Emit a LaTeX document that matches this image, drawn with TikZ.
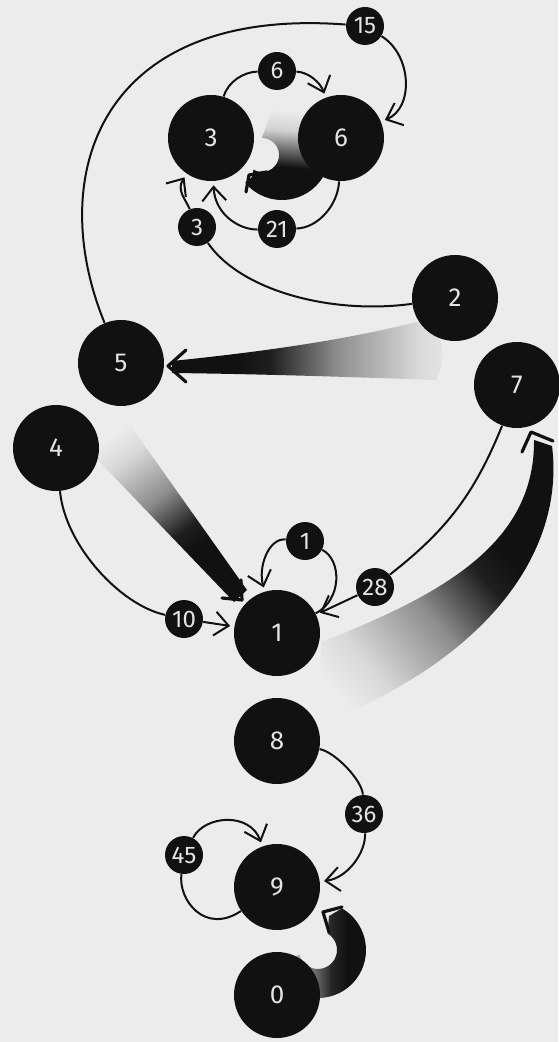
\documentclass[tikz,border=0pt]{standalone}
\usepackage{fontspec}
\setmainfont{Fira Sans}
\usetikzlibrary{arrows.meta}
\definecolor{bg}{RGB}{236,236,236}
\definecolor{ink}{RGB}{17,17,17}
\definecolor{txt}{RGB}{228,228,228}
\pgfdeclarehorizontalshading{fadeH}{100bp}{color(0bp)=(bg); color(25bp)=(bg); color(40bp)=(black!35); color(55bp)=(black!85); color(63bp)=(ink); color(100bp)=(ink)}
\pgfdeclarehorizontalshading{fadeC}{100bp}{color(0bp)=(bg); color(30bp)=(bg); color(40bp)=(black!18); color(50bp)=(black!60); color(58bp)=(ink); color(100bp)=(ink)}
\pgfdeclarehorizontalshading{fadeB}{100bp}{color(0bp)=(bg); color(22bp)=(bg); color(30bp)=(black!15); color(45bp)=(black!45); color(57bp)=(black!88); color(63bp)=(ink); color(100bp)=(ink)}
\pgfdeclarelayer{back}
\pgfsetlayers{back,main}
\begin{document}
\begin{tikzpicture}[x=0.5pt,y=0.5pt,
  big/.style={circle, fill=ink, text=txt, minimum size=43pt, inner sep=0pt, font=\fontsize{13}{13}\selectfont},
  lab/.style={circle, fill=ink, text=txt, minimum size=19pt, inner sep=0pt, font=\fontsize{12}{12}\selectfont},
  edge/.style={draw=ink, line width=1pt},
  arr/.style={edge, -{Straight Barb[length=7pt,width=12pt]}, shorten >=2pt},
  band/.style={shading=fadeB},
  chev/.style={draw=ink, line width=1.6pt, line cap=round, line join=round}]
\useasboundingbox (0,0) rectangle (558,-1042);
\begin{pgfonlayer}{back}
\fill[bg] (0,0) rectangle (558,-1042);
\end{pgfonlayer}
% nodes
\node[big] (n3) at (211,-138) {3};
\node[big] (n6) at (341,-138) {6};
\node[lab] (l6) at (277,-71) {6};
\node[lab] (l15) at (365,-26) {15};
\node[lab] (l3) at (197,-227) {3};
\node[lab] (l21) at (277,-229) {21};
\node[big] (n2) at (455,-298) {2};
\node[big] (n5) at (121,-363) {5};
\node[big] (n7) at (517,-385) {7};
\node[big] (n4) at (56,-448) {4};
\node[big] (n1) at (277,-633) {1};
\node[lab] (l1) at (305,-541) {1};
\node[lab] (l28) at (375,-587) {28};
\node[lab] (l10) at (184,-619) {10};
\node[big] (n8) at (277,-741) {8};
\node[lab] (l36) at (364,-814) {36};
\node[lab] (l45) at (184,-855) {45};
\node[big] (n9) at (277,-887) {9};
\node[big] (n0) at (277,-995) {0};
\begin{pgfonlayer}{back}
% thin edges
\draw[edge] (n5) .. controls (44,-175) and (100,-6) .. (l15);
\draw[arr] (l15) .. controls (412,-55) and (414,-108) .. (n6);
\draw[edge] (n3) .. controls (228,-82) and (243,-72) .. (l6);
\draw[arr] (l6) .. controls (308,-72) and (320,-82) .. (n6);
\draw[edge] (n6) .. controls (338,-205) and (318,-228) .. (l21);
\draw[arr] (l21) .. controls (240,-230) and (215,-215) .. (n3);
\draw[edge] (n2) .. controls (330,-315) and (240,-290) .. (l3);
\draw[arr] (l3) .. controls (186,-200) and (176,-190) .. (n3);
\draw[edge] (n4) .. controls (65,-545) and (120,-605) .. (l10);
\draw[arr] (l10) -- (n1);
\draw[edge] (n7) to[bend left=15] (l28);
\draw[arr] (l28) -- (n1);
\draw[edge] (n1) .. controls (342,-600) and (342,-560) .. (l1);
\draw[arr] (l1) .. controls (268,-538) and (258,-568) .. (n1);
\draw[edge] (n8) .. controls (335,-752) and (362,-780) .. (l36);
\draw[arr] (l36) .. controls (366,-852) and (348,-878) .. (n9);
\draw[edge] (n9) .. controls (205,-935) and (178,-900) .. (l45);
\draw[arr] (l45) .. controls (205,-815) and (250,-812) .. (n9);
% gradient bands
\shade[shading=fadeC, shading angle=-95] (282,-152) ++(100:48) arc[start angle=100, end angle=-140, radius=48] -- (252,-177) -- (253.5,-169.7) arc[start angle=-120, end angle=90, radius=17] -- cycle;
\draw[chev] (267,-172) -- (249,-175) -- (246,-192);
\shade[shading=fadeH, shading angle=0] (318,-950) ++(195:48) arc[start angle=195, end angle=420, radius=48] -- (329,-916) -- (327.5,-933.5) arc[start angle=420, end angle=195, radius=19] -- cycle;
\draw[chev] (342,-907) -- (323,-912) -- (329,-932);
\shade[band, shading angle=180] (172,-361) .. controls (260,-352) and (350,-340) .. (432,-318) .. controls (445,-340) and (445,-365) .. (436,-380) .. controls (350,-377) and (260,-374) .. (172,-373) -- cycle;
\draw[chev] (186,-350) -- (168,-366) -- (186,-382);
\shade[band, shading angle=-54] (96,-458) -- (103,-425) -- (125,-418) -- (247,-590) -- (234,-602) -- cycle;
\draw[chev] (222,-598) -- (242,-600) -- (241,-580);
\shade[band, shading angle=40] (313,-727) .. controls (490,-660) and (565,-550) .. (552,-446) -- (534,-440) .. controls (535,-545) and (440,-595) .. (322,-642) -- cycle;
\draw[chev] (522,-452) -- (531,-432) -- (553,-441);
\end{pgfonlayer}
\end{tikzpicture}
\end{document}
